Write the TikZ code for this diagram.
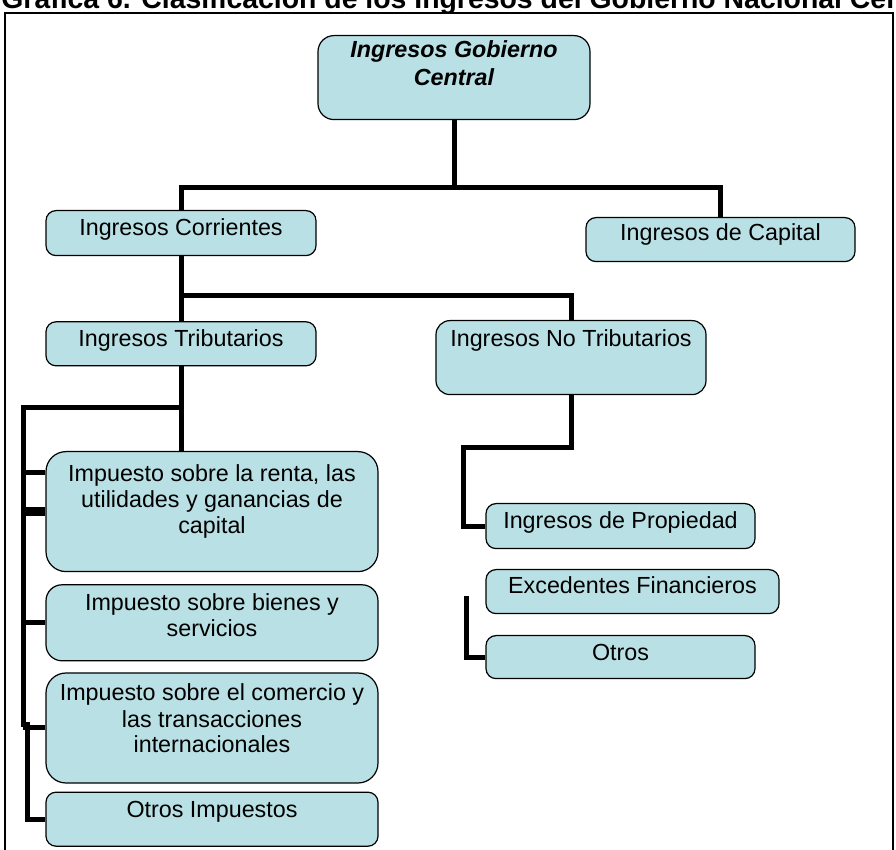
\documentclass[tikz,border=0pt]{standalone}
\usepackage{fontspec}
\setmainfont{Liberation Sans}
\usetikzlibrary{positioning}
\definecolor{boxfill}{RGB}{185,224,228}

\begin{document}
\begin{tikzpicture}[
    x=0.5pt, y=-0.5pt,
    box/.style={rectangle, rounded corners=5pt, draw=black, line width=0.6pt, fill=boxfill, anchor=north, inner xsep=2pt, inner ysep=0pt, font=\fontsize{11.65}{13}\selectfont},
    conn/.style={line width=2.5pt},
    every node/.style={align=center}
]
\useasboundingbox (0,0) rectangle (896,850);
\clip (0,0) rectangle (896,850);

% Title and frame
\node (title) [anchor=base west, inner sep=0pt, font=\fontsize{14.2}{16}\selectfont\bfseries] at (1,9) {Gráfica 6. Clasificación de los Ingresos del Gobierno Nacional Central};
\draw [line width=0.7pt] (5,870) -- (5,13) -- (893,13) -- (893,870);

% Nodes
\node (gob) [box, minimum width=136pt, text height=25pt, text depth=17pt, rounded corners=8pt, font=\fontsize{11.65}{14}\selectfont\bfseries\itshape] at (454,35) {Ingresos Gobierno\\Central};
\node (corr) [box, minimum width=135pt, text height=12.5pt, text depth=10pt] at (181,210) {Ingresos Corrientes};
\node (cap) [box, minimum width=134.5pt, text height=11.5pt, text depth=10.5pt] at (720.5,217) {Ingresos de Capital};
\node (trib) [box, below=32.5pt of corr, minimum width=135pt, text height=12.5pt, text depth=9.5pt] {Ingresos Tributarios};
\node (notrib) [box, minimum width=135pt, text height=13pt, text depth=24pt, rounded corners=7pt] at (571,320) {Ingresos No Tributarios};
\node (renta) [box, minimum width=166pt, text height=41pt, text depth=19pt, rounded corners=10pt] at (212,451) {Impuesto sobre la renta, las\\utilidades y ganancias de\\capital};
\node (bienes) [box, below=6pt of renta, minimum width=166pt, text height=26pt, text depth=12pt, rounded corners=8pt] {Impuesto sobre bienes y\\servicios};
\node (comer) [box, below=5.5pt of bienes, minimum width=166pt, text height=40pt, text depth=15pt, rounded corners=10pt] {Impuesto sobre el comercio y\\las transacciones\\internacionales};
\node (otrimp) [box, below=4pt of comer, minimum width=166pt, text height=12.5pt, text depth=14.5pt] {Otros Impuestos};
\node (prop) [box, minimum width=134.5pt, text height=12.5pt, text depth=10pt] at (620.5,503) {Ingresos de Propiedad};
\node (exced) [box, minimum width=146.5pt, text height=12pt, text depth=10pt] at (632.5,569) {Excedentes Financieros};
\node (otros) [box, minimum width=134.5pt, text height=12.5pt, text depth=9pt] at (620.5,635) {Otros};

% Lines
\coordinate (j1) at (454,188);
\coordinate (j2) at (181,296);
\coordinate (j3) at (181,408);
\coordinate (j4) at (463,448);
\coordinate (j5) at (466,596);
\coordinate (k1) at (23,727);
\coordinate (k2) at (27,722);
\coordinate (s1) at (23,473);

\draw [conn] (gob.south) -- (j1);
\draw [conn] (corr.north) |- (j1) -| (cap.north);
\draw [conn] (corr.south) -- (trib.north);
\draw [conn] (j2) -| (notrib.north);
\draw [conn] (trib.south) -- (trib.south |- renta.north);
\draw [conn] (j3) -| (k1);
\draw [conn] (k2) |- (otrimp.west);
\draw [conn] (s1) -- (s1 -| renta.west);
\draw [conn, line width=4.5pt] (renta.west -| k1) -- (renta.west);
\foreach \b in {bienes, comer}
    \draw [conn] (\b.west -| k1) -- (\b.west);
\draw [conn] (notrib.south) |- (j4) |- (prop.west);
\draw [conn] (j5) |- (otros.west);

\end{tikzpicture}
\end{document}
